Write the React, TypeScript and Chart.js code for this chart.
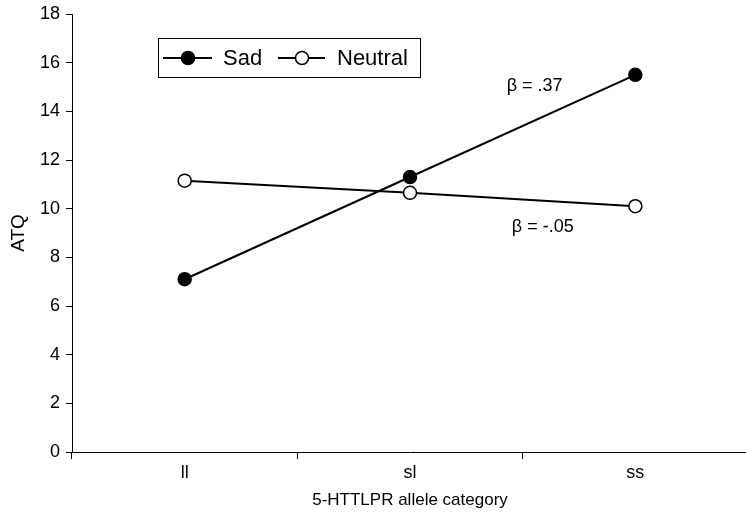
import { useEffect, useRef } from 'react';
import { Chart, registerables } from 'chart.js';

Chart.register(...registerables);

const categories = ['ll', 'sl', 'ss'];
const sadValues = [7.1, 11.3, 15.5];
const neutralValues = [11.15, 10.65, 10.1];
const yMin = 0;
const yMax = 18;
const yStep = 2;
const annotationTexts = ['β = .37', 'β = -.05'];
const annotationX = [1.553, 1.589];
const annotationY = [15.04, 9.25];

const FONT = "Arial, 'Liberation Sans', Helvetica, sans-serif";

const legendPlugin = {
  id: 'boxLegend',
  afterDraw(chart: any) {
    const ctx = chart.ctx;
    ctx.save();
    const bx = 158, by = 38, bw = 262, bh = 39;
    ctx.strokeStyle = '#000';
    ctx.lineWidth = 1;
    ctx.strokeRect(bx + 0.5, by + 0.5, bw, bh);
    const cy = by + 20;
    const items = [
      { x0: 163, x1: 212, mx: 188, tx: 223 },
      { x0: 278, x1: 325, mx: 302, tx: 337 },
    ];
    chart.data.datasets.forEach((ds: any, i: number) => {
      const it = items[i];
      ctx.beginPath();
      ctx.moveTo(it.x0, cy);
      ctx.lineTo(it.x1, cy);
      ctx.lineWidth = 2;
      ctx.strokeStyle = '#000';
      ctx.stroke();
      ctx.beginPath();
      ctx.arc(it.mx, cy, 6.5, 0, Math.PI * 2);
      ctx.fillStyle = ds.pointBackgroundColor;
      ctx.fill();
      ctx.lineWidth = 1.5;
      ctx.stroke();
      ctx.fillStyle = '#000';
      ctx.font = `22px ${FONT}`;
      ctx.textAlign = 'left';
      ctx.textBaseline = 'middle';
      ctx.fillText(ds.label, it.tx, cy + 1);
    });
    ctx.restore();
  },
};

const annotationPlugin = {
  id: 'betaNotes',
  afterDatasetsDraw(chart: any) {
    const ctx = chart.ctx;
    const xs = chart.scales.x;
    const ys = chart.scales.y;
    ctx.save();
    ctx.fillStyle = '#000';
    ctx.font = `18px ${FONT}`;
    ctx.textAlign = 'center';
    ctx.textBaseline = 'middle';
    annotationTexts.forEach((t, i) => {
      ctx.fillText(t, xs.getPixelForValue(annotationX[i]), ys.getPixelForValue(annotationY[i]));
    });
    ctx.restore();
  },
};

function zeroPadding(scale: any) {
  scale.paddingLeft = 0;
  scale.paddingRight = 0;
  scale.paddingTop = 0;
  scale.paddingBottom = 0;
}

export default function App() {
  const ref = useRef<HTMLCanvasElement>(null);
  useEffect(() => {
    if (!ref.current) return;
    const chart = new Chart(ref.current, {
      type: 'line',
      data: {
        labels: categories,
        datasets: [
          {
            label: 'Sad',
            data: sadValues,
            borderColor: '#000',
            borderWidth: 2,
            pointBackgroundColor: '#000',
            pointBorderColor: '#000',
            pointBorderWidth: 1.5,
            pointRadius: 6.5,
            tension: 0,
          },
          {
            label: 'Neutral',
            data: neutralValues,
            borderColor: '#000',
            borderWidth: 2,
            pointBackgroundColor: '#fff',
            pointBorderColor: '#000',
            pointBorderWidth: 1.5,
            pointRadius: 6.5,
            tension: 0,
          },
        ],
      },
      options: {
        responsive: false,
        animation: false,
        layout: { autoPadding: false, padding: { top: 14, right: 2, left: 0, bottom: 0 } },
        plugins: {
          legend: { display: false },
          tooltip: { enabled: false },
        },
        scales: {
          x: {
            type: 'category',
            offset: true,
            grid: {
              offset: true,
              drawOnChartArea: false,
              drawTicks: true,
              tickLength: 7,
              color: '#000',
              lineWidth: 1,
            },
            border: { color: '#000', width: 1 },
            ticks: { color: '#000', font: { family: FONT, size: 18 }, padding: 3 },
            title: {
              display: true,
              text: '5-HTTLPR allele category',
              color: '#000',
              font: { family: FONT, size: 17 },
              padding: { top: 0, bottom: 5 },
            },
            afterFit(scale: any) {
              scale.height = 64;
              zeroPadding(scale);
            },
          },
          y: {
            min: yMin,
            max: yMax,
            grid: {
              drawOnChartArea: false,
              drawTicks: true,
              tickLength: 6,
              color: '#000',
              lineWidth: 1,
            },
            border: { color: '#000', width: 1 },
            ticks: { stepSize: yStep, color: '#000', font: { family: FONT, size: 18 }, padding: 6 },
            title: {
              display: true,
              text: 'ATQ',
              color: '#000',
              font: { family: FONT, size: 19 },
              padding: { top: 7, bottom: 0 },
            },
            afterFit(scale: any) {
              scale.width = 72;
              zeroPadding(scale);
            },
          },
        },
      },
      plugins: [annotationPlugin, legendPlugin],
    });
    return () => chart.destroy();
  }, []);
  return (
    <div style={{ position: 'fixed', left: 0, top: 0, width: 746, height: 516, overflow: 'hidden', background: '#fff' }}>
      <canvas ref={ref} width={750} height={516} style={{ display: 'block' }} />
    </div>
  );
}
